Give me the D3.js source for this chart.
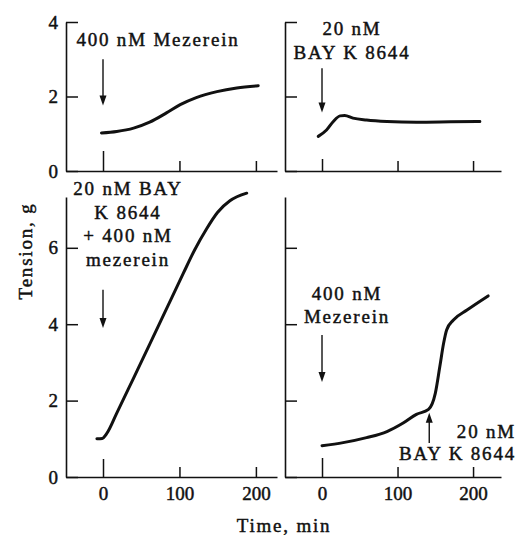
<!DOCTYPE html>
<html><head><meta charset="utf-8">
<script src="https://cdn.jsdelivr.net/npm/d3@7"></script>
<style>
html,body{margin:0;padding:0;background:#fff;}
svg{display:block;}
text{font-family:"Liberation Serif","Times New Roman",serif;fill:#111;stroke:#111;stroke-width:0.45px;}
</style></head>
<body>
<svg id="chart" width="519" height="536"></svg>
<script>
// ---- data ----
const timeTicks = [0, 100, 200];
const tensionTicksTop = [0, 2, 4];
const tensionTicksBottom = [0, 2, 4, 6];

// Top-left: 400 nM Mezerein
const mezTime    = [-2, 18, 40, 61, 83, 101, 122, 149, 175, 203];
const mezTension = [1.02, 1.06, 1.15, 1.31, 1.56, 1.78, 1.97, 2.13, 2.23, 2.29];

// Top-right: 20 nM BAY K 8644
const bayTime    = [-5, 6, 15, 24, 30, 41, 59, 86, 125, 170, 209];
const bayTension = [0.93, 1.10, 1.33, 1.48, 1.49, 1.42, 1.37, 1.33, 1.31, 1.32, 1.33];

// Bottom-left: 20 nM BAY K 8644 + 400 nM mezerein
const comboTime    = [-8, -1, 5, 18, 40, 61, 83, 105, 120, 135, 150, 166, 188];
const comboTension = [1.0, 1.01, 1.14, 1.67, 2.59, 3.47, 4.40, 5.33, 5.95, 6.48, 6.93, 7.23, 7.43];

// Bottom-right: mezerein, then BAY K 8644 at ~142 min
const seqTime    = [0, 28, 59, 86, 108, 125, 141, 150, 156, 161, 165, 174, 192, 220];
const seqTension = [0.82, 0.90, 1.03, 1.19, 1.42, 1.64, 1.77, 2.19, 2.89, 3.50, 3.85, 4.11, 4.37, 4.74];

// arrows: [time, from tension, to tension]
const mezArrow   = [0, 3.0, 1.76];
const bayArrow   = [0, 2.76, 1.57];
const comboArrow = [0, 4.9, 3.9];
const seqArrow1  = [0, 3.72, 2.49];
const seqArrow2  = [142, 0.89, 1.68];

// ---- layout ----
const svg = d3.select("#chart");
const xLeft  = d3.scaleLinear().domain([-48.4, 227.6]).range([66, 277]);
const xRight = d3.scaleLinear().domain([-49, 237]).range([285, 501]);
const yTop    = d3.scaleLinear().domain([0, 4]).range([171, 22]);
const yBottom = d3.scaleLinear().domain([0, 7.33]).range([477, 197]);

const FONT = 19;

function panel(x, y, yTicks, showYLabels, showXLabels, zeroTick) {
  const g = svg.append("g");
  const xa = g.append("g").attr("transform", `translate(0,${y.range()[0]})`)
    .call(d3.axisBottom(x).tickValues(timeTicks).tickSizeInner(-10).tickSizeOuter(0)
      .tickPadding(10).tickFormat(showXLabels ? d3.format("d") : () => ""));
  xa.selectAll(".tick line").filter(d => d === 0).attr("y2", -zeroTick);
  const ya = g.append("g").attr("transform", `translate(${x.range()[0]},0)`)
    .call(d3.axisLeft(y).tickValues(yTicks).tickSizeInner(-12).tickSizeOuter(0)
      .tickPadding(8).tickFormat(showYLabels ? d3.format("d") : () => ""));
  [xa, ya].forEach(a => {
    a.select(".domain").attr("stroke", "#111").attr("stroke-width", 1.6);
    a.selectAll(".tick line").attr("stroke", "#111").attr("stroke-width", 1.5);
    a.selectAll(".tick text").attr("font-size", FONT)
      .attr("font-family", "Liberation Serif, serif").attr("fill", "#111");
  });
  return g;
}

function curve(g, x, y, ts, vs) {
  const pts = ts.map((t, i) => [t, vs[i]]);
  g.append("path").datum(pts)
    .attr("fill", "none").attr("stroke", "#111").attr("stroke-width", 3)
    .attr("stroke-linecap", "round").attr("stroke-linejoin", "round")
    .attr("d", d3.line().x(d => x(d[0])).y(d => y(d[1])).curve(d3.curveMonotoneX));
}

function arrow(g, x, y, a) {
  const px = x(a[0]), y0 = y(a[1]), y1 = y(a[2]);
  const dir = y1 > y0 ? 1 : -1;
  g.append("line").attr("x1", px).attr("x2", px).attr("y1", y0).attr("y2", y1 - dir * 8)
    .attr("stroke", "#111").attr("stroke-width", 1.4);
  g.append("path")
    .attr("d", `M${px - 3.5},${y1 - dir * 10}L${px + 3.5},${y1 - dir * 10}L${px},${y1}Z`)
    .attr("fill", "#111");
}

function label(lines, cx, baseline, anchor, lineH) {
  const t = svg.append("text").attr("font-size", FONT).attr("letter-spacing", "1.8px")
    .attr("text-anchor", anchor);
  lines.forEach((s, i) => t.append("tspan").attr("x", cx).attr("y", baseline + i * lineH).text(s));
}

const gTL = panel(xLeft, yTop, tensionTicksTop, true, false, 20);
const gTR = panel(xRight, yTop, tensionTicksTop, false, false, 12);
const gBL = panel(xLeft, yBottom, tensionTicksBottom, true, true, 18);
const gBR = panel(xRight, yBottom, tensionTicksBottom, false, true, 19);

curve(gTL, xLeft, yTop, mezTime, mezTension);
curve(gTR, xRight, yTop, bayTime, bayTension);
curve(gBL, xLeft, yBottom, comboTime, comboTension);
curve(gBR, xRight, yBottom, seqTime, seqTension);

arrow(gTL, xLeft, yTop, mezArrow);
arrow(gTR, xRight, yTop, bayArrow);
arrow(gBL, xLeft, yBottom, comboArrow);
arrow(gBR, xRight, yBottom, seqArrow1);
arrow(gBR, xRight, yBottom, seqArrow2);

label(["400 nM Mezerein"], 158, 46, "middle", 23.5);
label(["20 nM", "BAY K 8644"], 352, 35, "middle", 24);
label(["20 nM BAY", "K 8644", "+ 400 nM", "mezerein"], 128, 195, "middle", 23.5);
label(["400 nM", "Mezerein"], 347, 300, "middle", 23);
label(["20 nM", "BAY K 8644"], 516, 438, "end", 22);

svg.append("text").attr("font-size", FONT).attr("letter-spacing", "1.8px")
  .attr("text-anchor", "middle").attr("x", 284).attr("y", 532).text("Time, min");
svg.append("text").attr("font-size", FONT).attr("letter-spacing", "1.8px")
  .attr("text-anchor", "middle")
  .attr("transform", "translate(32,251) rotate(-90)").text("Tension, g");
</script>
</body></html>
